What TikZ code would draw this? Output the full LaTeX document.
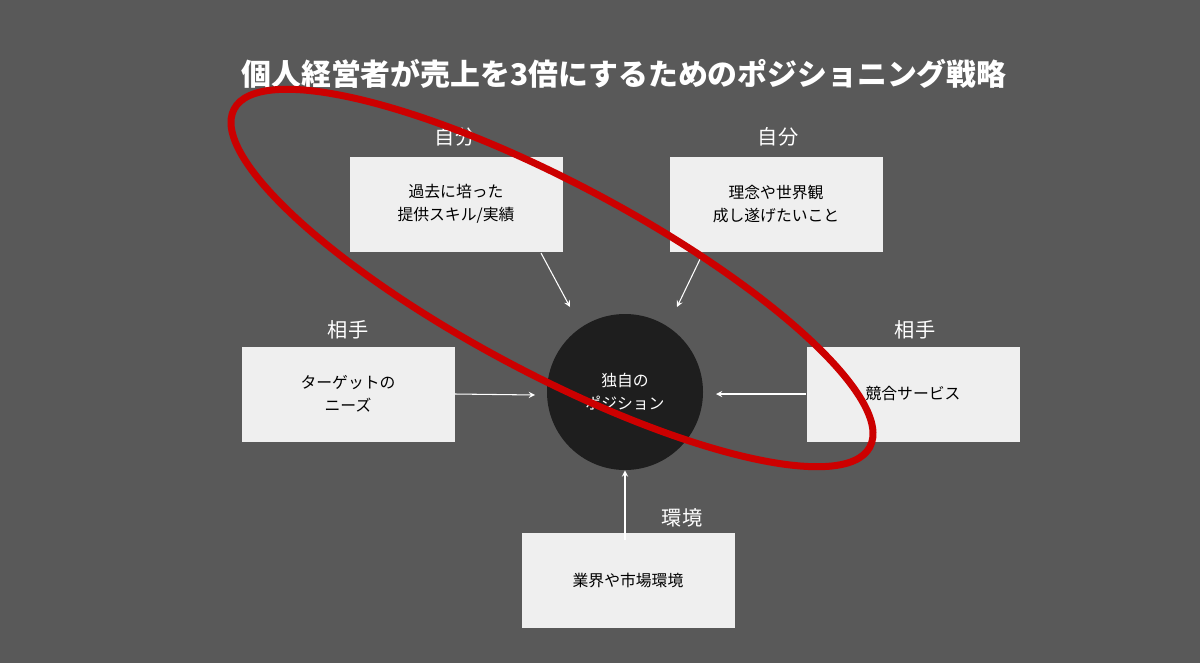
\documentclass[tikz,border=0pt]{standalone}
\usepackage{fontspec}
\setmainfont{Noto Sans CJK JP}
\begin{document}
\begin{tikzpicture}[x=0.02cm,y=-0.02cm,
  box/.style={fill=boxgray,draw=none,minimum width=213*0.02cm,minimum height=95*0.02cm,align=center,font=\fontsize{9}{13}\selectfont},
  lab/.style={text=white,font=\fontsize{11.5}{14}\selectfont},
  arr/.style={draw=white,->,>=stealth,line width=0.6pt}]
\definecolor{bg}{HTML}{595959}
\definecolor{boxgray}{HTML}{EFEFEF}
\definecolor{dark}{HTML}{1E1E1E}
\definecolor{redl}{HTML}{CC0000}
\fill[bg] (0,0) rectangle (1200,663);
\useasboundingbox (0,0) rectangle (1200,663);
\node[text=white,font=\fontsize{17}{20}\bfseries\selectfont] (title) at (624,74) {個人経営者が売上を3倍にするためのポジショニング戦略};
\node[box] (tl) at (456,204) {過去に培った\\提供スキル/実績};
\node[box] (tr) at (776,204) {理念や世界観\\成し遂げたいこと};
\node[box] (l) at (348,394) {ターゲットの\\ニーズ};
\node[box] (r) at (913,394) {競合サービス};
\node[box] (b) at (628,580) {業界や市場環境};
\node[lab] (ltl) at (455,137) {自分};
\node[lab] (ltr) at (778,137) {自分};
\node[lab] (ll) at (348,330) {相手};
\node[lab] (lr) at (915,330) {相手};
\node[lab] (lb) at (682,518) {環境};
\node[circle,fill=dark,minimum size=156*0.02cm,text=white,align=center,font=\fontsize{9}{13}\selectfont] (c) at (625,392) {独自の\\ポジション};
\draw[arr] (541,253) -- (570,307);
\draw[arr] (703,253) -- (677,307);
\draw[arr] (l.east) -- (535,395);
\draw[arr] (r.west) -- (716,394);
\draw[arr] (625,540) -- (c.south);
\draw[redl,line width=7*0.02cm*28.45pt/1cm] (552,278) ellipse[x radius=360,y radius=95,rotate=-28];
\end{tikzpicture}
\end{document}
